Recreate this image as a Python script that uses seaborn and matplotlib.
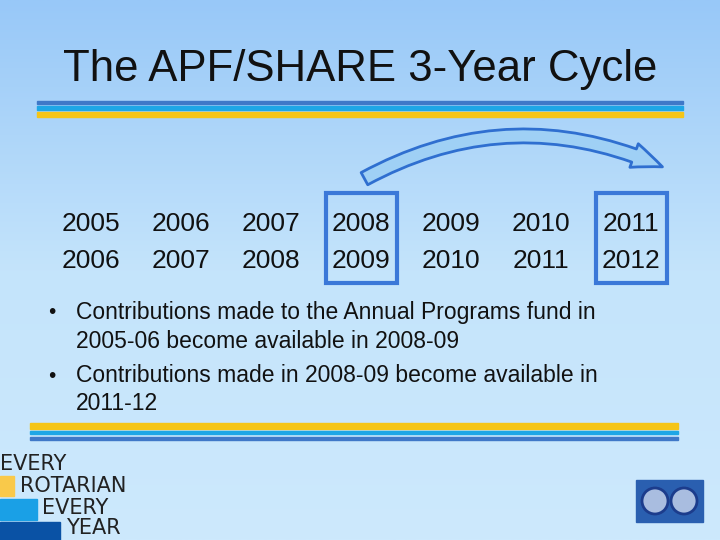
import matplotlib
matplotlib.use("Agg")
import matplotlib.pyplot as plt
import seaborn as sns
import numpy as np
from matplotlib.patches import Rectangle, FancyArrowPatch
from matplotlib.colors import LinearSegmentedColormap

sns.set_style("white")
plt.rcParams['font.family'] = ['Liberation Sans', 'DejaVu Sans']

title = "The APF/SHARE 3-Year Cycle"
start_years = ["2005", "2006", "2007", "2008", "2009", "2010", "2011"]
end_years = ["2006", "2007", "2008", "2009", "2010", "2011", "2012"]
boxed = [3, 6]
bullets = [
    ["Contributions made to the Annual Programs fund in", "2005-06 become available in 2008-09"],
    ["Contributions made in 2008-09 become available in", "2011-12"],
]

fig = plt.figure(figsize=(7.2, 5.4), dpi=100)
ax = fig.add_axes([0, 0, 1, 1])
ax.set_xlim(0, 720); ax.set_ylim(540, 0); ax.axis("off")
grad = np.linspace(0, 1, 256).reshape(-1, 1)
cm = LinearSegmentedColormap.from_list("bg", ["#98c8f8", "#c4e4fb", "#cde9fd"])
ax.imshow(grad, cmap=cm, extent=[0, 720, 540, 0], aspect="auto", zorder=0)

ax.text(360, 70, title, ha="center", va="center", fontsize=31.5, color="#111111")
for y, h, c in [(101, 3, "#3f78c8"), (106, 4, "#1ea6e6"), (112, 5, "#f5c518")]:
    ax.add_patch(Rectangle((37, y), 646, h, color=c, zorder=2))
for y, h, c in [(423, 6, "#f5c518"), (431, 3, "#1ea6e6"), (437, 3, "#3f78c8")]:
    ax.add_patch(Rectangle((30, y), 648, h, color=c, zorder=2))

xs = np.arange(len(start_years)) * 90 + 91
for i, (a, b) in enumerate(zip(start_years, end_years)):
    ax.text(xs[i], 224, a, ha="center", va="center", fontsize=19, color="#111111")
    ax.text(xs[i], 261, b, ha="center", va="center", fontsize=19, color="#111111")
for i in boxed:
    ax.add_patch(Rectangle((xs[i] - 35, 193), 71, 90, fill=False, ec="#3b78d8", lw=3, zorder=3))

arr = FancyArrowPatch((362, 180), (665, 168), connectionstyle="arc3,rad=-0.25",
                      arrowstyle="simple,head_width=18,head_length=22,tail_width=10",
                      fc="#9fd0f5", ec="#2f6fd0", lw=2, zorder=4)
ax.add_patch(arr)

for y, lines in [(313, bullets[0]), (376, bullets[1])]:
    ax.text(48, y, "•", fontsize=15, va="center", ha="left", color="#111111")
    for k, t in enumerate(lines):
        ax.text(76, y + 28 * k, t, fontsize=16.5, va="center", ha="left", color="#111111")

# logo
ax.add_patch(Rectangle((0, 476), 14, 20, color="#f9c94a"))
ax.add_patch(Rectangle((0, 499), 37, 21, color="#1aa0e6"))
ax.add_patch(Rectangle((0, 522), 60, 18, color="#0a52a5"))
for x, y, t in [(0, 464, "EVERY"), (20, 486, "ROTARIAN"), (42, 508, "EVERY"), (66, 528, "YEAR")]:
    ax.text(x, y, t, fontsize=15, va="center", ha="left", color="#222222",
            family=["Liberation Sans Narrow", "DejaVu Sans"])
ax.add_patch(Rectangle((636, 480), 67, 42, color="#2a5fb0"))
for cx in [655, 684]:
    ax.add_patch(plt.Circle((cx, 501), 13, fc="#a9bde0", ec="#1c3c8c", lw=2))

fig.savefig("out.png", dpi=100)
